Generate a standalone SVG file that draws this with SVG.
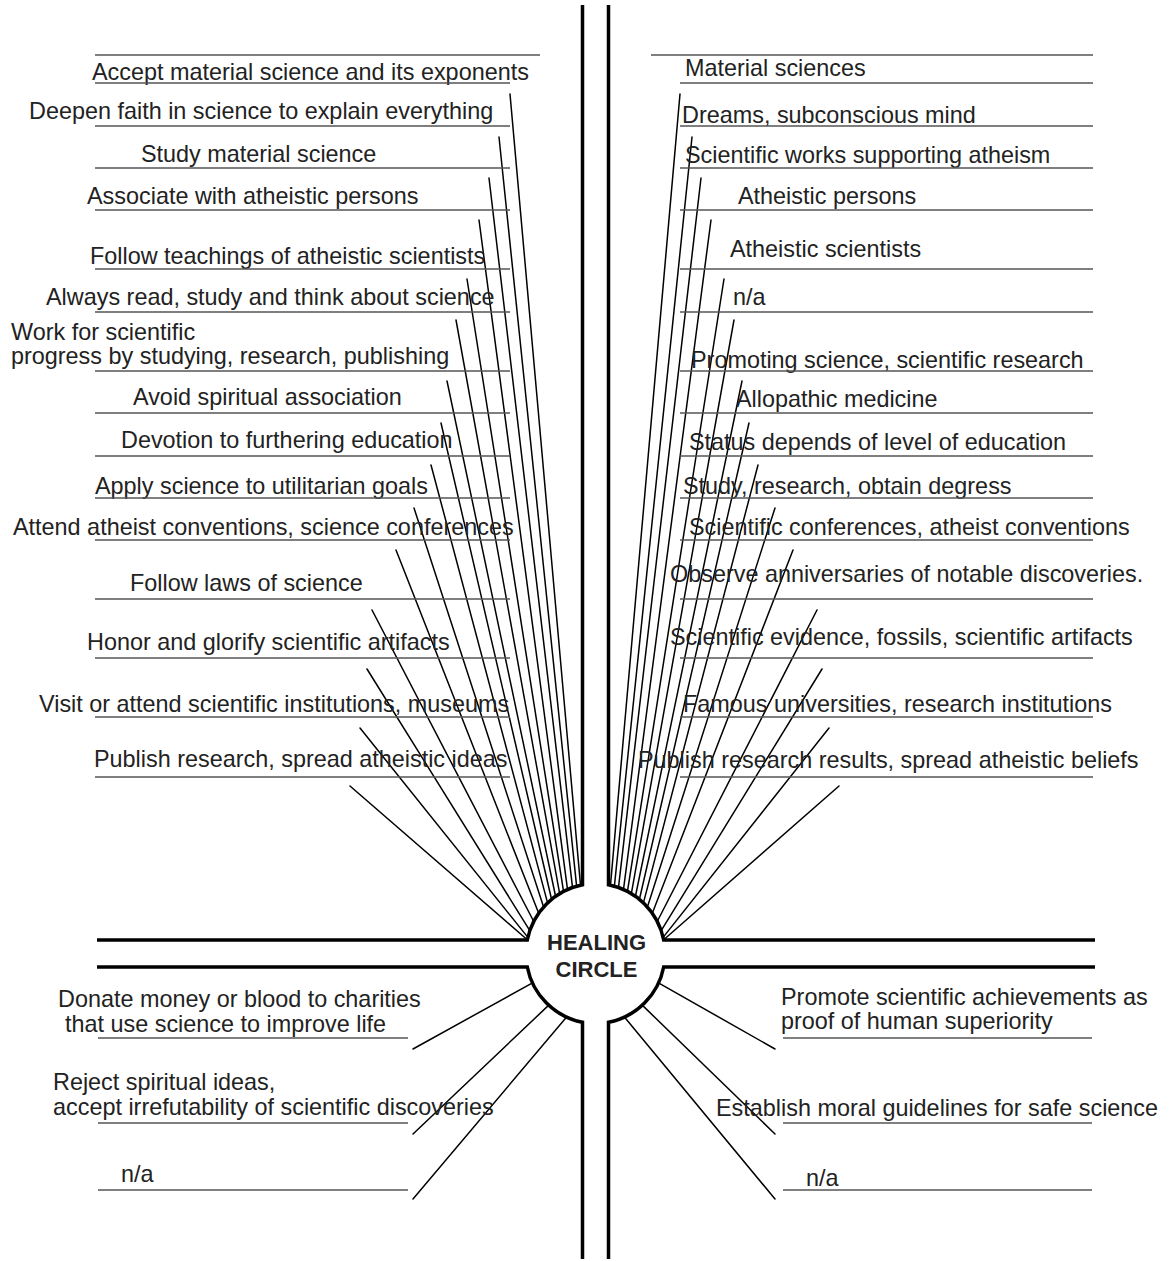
<svg xmlns="http://www.w3.org/2000/svg" width="1175" height="1261" viewBox="0 0 1175 1261">
<style>
.t{font-family:"Liberation Sans",Arial,sans-serif;font-size:23.4px;fill:#222}
.u{stroke:#555;stroke-width:1.4;fill:none}
.r{stroke:#000;stroke-width:1.5;fill:none;stroke-linecap:round}
.k{stroke:#000;stroke-width:3.5;fill:none}
.c{font-family:"Liberation Sans",Arial,sans-serif;font-size:22px;font-weight:bold;fill:#222;text-anchor:middle}
</style>
<rect width="1175" height="1261" fill="#fff"/>
<g id="healing-circle">
<path class="k" d="M582.5,5 V884.7 A70,70 0 0 0 527.3,940 H97"/>
<path class="k" d="M608.5,5 V884.7 A70,70 0 0 1 663.7,940 H1095"/>
<path class="k" d="M97,967 H527.3 A70,70 0 0 0 582.5,1022.3 V1259"/>
<path class="k" d="M1095,967 H663.7 A70,70 0 0 1 608.5,1022.3 V1259"/>
<text class="c" x="596.5" y="950">HEALING</text>
<text class="c" x="596.5" y="977">CIRCLE</text>
</g>
<g id="connectors">
<line class="r" x1="510" y1="94" x2="580.5" y2="885.1"/>
<line class="r" x1="499" y1="137" x2="576.6" y2="886.1"/>
<line class="r" x1="489" y1="178" x2="572.5" y2="887.4"/>
<line class="r" x1="479" y1="220" x2="567.5" y2="889.4"/>
<line class="r" x1="467" y1="279" x2="563.5" y2="891.2"/>
<line class="r" x1="456" y1="320" x2="559.6" y2="893.4"/>
<line class="r" x1="447" y1="381" x2="555.5" y2="896"/>
<line class="r" x1="441" y1="423" x2="551.5" y2="899"/>
<line class="r" x1="431" y1="465" x2="547.5" y2="902.6"/>
<line class="r" x1="414" y1="508" x2="543.5" y2="906.7"/>
<line class="r" x1="396" y1="550" x2="538.5" y2="912.8"/>
<line class="r" x1="372" y1="610" x2="533.5" y2="921"/>
<line class="r" x1="367" y1="669" x2="529.5" y2="930.1"/>
<line class="r" x1="360" y1="728" x2="527.5" y2="936.9"/>
<line class="r" x1="350" y1="786" x2="527" y2="939.5"/>
<line class="r" x1="680" y1="94" x2="610.5" y2="885.1"/>
<line class="r" x1="692" y1="137" x2="614.4" y2="886.1"/>
<line class="r" x1="701" y1="178" x2="618.5" y2="887.4"/>
<line class="r" x1="711" y1="220" x2="623.5" y2="889.4"/>
<line class="r" x1="724" y1="279" x2="627.5" y2="891.2"/>
<line class="r" x1="734" y1="320" x2="631.4" y2="893.4"/>
<line class="r" x1="742" y1="381" x2="635.5" y2="896"/>
<line class="r" x1="749" y1="423" x2="639.5" y2="899"/>
<line class="r" x1="758" y1="465" x2="643.5" y2="902.6"/>
<line class="r" x1="775" y1="508" x2="647.5" y2="906.7"/>
<line class="r" x1="793" y1="550" x2="652.5" y2="912.8"/>
<line class="r" x1="817" y1="610" x2="657.5" y2="921"/>
<line class="r" x1="822" y1="669" x2="661.5" y2="930.1"/>
<line class="r" x1="829" y1="728" x2="663.5" y2="936.9"/>
<line class="r" x1="839" y1="786" x2="664" y2="939.5"/>
<line class="r" x1="532.1" y1="983.1" x2="413" y2="1049"/>
<line class="r" x1="548.5" y1="1005.4" x2="413" y2="1134"/>
<line class="r" x1="566.4" y1="1017.2" x2="413" y2="1199"/>
<line class="r" x1="658.9" y1="983.1" x2="775" y2="1049"/>
<line class="r" x1="642.5" y1="1005.4" x2="775" y2="1134"/>
<line class="r" x1="624.6" y1="1017.2" x2="775" y2="1199"/>
</g>
<g id="L1"><line class="u" x1="95" y1="55" x2="540" y2="55"/><text class="t" x="92" y="80">Accept material science and its exponents</text><line class="u" x1="95" y1="83" x2="510" y2="83"/></g>
<g id="L2"><text class="t" x="29" y="119">Deepen faith in science to explain everything</text><line class="u" x1="95" y1="126" x2="510" y2="126"/></g>
<g id="L3"><text class="t" x="141" y="162">Study material science</text><line class="u" x1="95" y1="168" x2="510" y2="168"/></g>
<g id="L4"><text class="t" x="87" y="204">Associate with atheistic persons</text><line class="u" x1="95" y1="210" x2="510" y2="210"/></g>
<g id="L5"><text class="t" x="90" y="264">Follow teachings of atheistic scientists</text><line class="u" x1="95" y1="269" x2="510" y2="269"/></g>
<g id="L6"><text class="t" x="46" y="305">Always read, study and think about science</text><line class="u" x1="95" y1="312" x2="510" y2="312"/></g>
<g id="L7"><text class="t" x="11" y="340">Work for scientific</text><text class="t" x="11" y="364">progress by studying, research, publishing</text><line class="u" x1="95" y1="371" x2="510" y2="371"/></g>
<g id="L8"><text class="t" x="133" y="405">Avoid spiritual association</text><line class="u" x1="95" y1="413" x2="510" y2="413"/></g>
<g id="L9"><text class="t" x="121" y="448">Devotion to furthering education</text><line class="u" x1="95" y1="456" x2="510" y2="456"/></g>
<g id="L10"><text class="t" x="95" y="494">Apply science to utilitarian goals</text><line class="u" x1="95" y1="498" x2="510" y2="498"/></g>
<g id="L11"><text class="t" x="13" y="535">Attend atheist conventions, science conferences</text><line class="u" x1="95" y1="540" x2="510" y2="540"/></g>
<g id="L12"><text class="t" x="130" y="591">Follow laws of science</text><line class="u" x1="95" y1="599" x2="510" y2="599"/></g>
<g id="L13"><text class="t" x="87" y="650">Honor and glorify scientific artifacts</text><line class="u" x1="95" y1="658" x2="510" y2="658"/></g>
<g id="L14"><text class="t" x="39" y="712">Visit or attend scientific institutions, museums</text><line class="u" x1="95" y1="717" x2="510" y2="717"/></g>
<g id="L15"><text class="t" x="94" y="767">Publish research, spread atheistic ideas</text><line class="u" x1="95" y1="777" x2="510" y2="777"/></g>
<g id="R1"><line class="u" x1="651" y1="55" x2="1093" y2="55"/><text class="t" x="685" y="76">Material sciences</text><line class="u" x1="680" y1="83" x2="1093" y2="83"/></g>
<g id="R2"><text class="t" x="682" y="123">Dreams, subconscious mind</text><line class="u" x1="680" y1="126" x2="1093" y2="126"/></g>
<g id="R3"><text class="t" x="685" y="163">Scientific works supporting atheism</text><line class="u" x1="680" y1="168" x2="1093" y2="168"/></g>
<g id="R4"><text class="t" x="738" y="204">Atheistic persons</text><line class="u" x1="680" y1="210" x2="1093" y2="210"/></g>
<g id="R5"><text class="t" x="730" y="257">Atheistic scientists</text><line class="u" x1="680" y1="269" x2="1093" y2="269"/></g>
<g id="R6"><text class="t" x="733" y="305">n/a</text><line class="u" x1="680" y1="312" x2="1093" y2="312"/></g>
<g id="R7"><text class="t" x="691" y="368">Promoting science, scientific research</text><line class="u" x1="680" y1="371" x2="1093" y2="371"/></g>
<g id="R8"><text class="t" x="736" y="407">Allopathic medicine</text><line class="u" x1="680" y1="413" x2="1093" y2="413"/></g>
<g id="R9"><text class="t" x="689" y="450">Status depends of level of education</text><line class="u" x1="680" y1="456" x2="1093" y2="456"/></g>
<g id="R10"><text class="t" x="683" y="494">Study, research, obtain degress</text><line class="u" x1="680" y1="498" x2="1093" y2="498"/></g>
<g id="R11"><text class="t" x="689" y="535">Scientific conferences, atheist conventions</text><line class="u" x1="680" y1="540" x2="1093" y2="540"/></g>
<g id="R12"><text class="t" x="670" y="582">Observe anniversaries of notable discoveries.</text><line class="u" x1="680" y1="599" x2="1093" y2="599"/></g>
<g id="R13"><text class="t" x="670" y="645">Scientific evidence, fossils, scientific artifacts</text><line class="u" x1="680" y1="658" x2="1093" y2="658"/></g>
<g id="R14"><text class="t" x="683" y="712">Famous universities, research institutions</text><line class="u" x1="680" y1="717" x2="1093" y2="717"/></g>
<g id="R15"><text class="t" x="638" y="768">Publish research results, spread atheistic beliefs</text><line class="u" x1="680" y1="777" x2="1093" y2="777"/></g>
<g id="BL1"><text class="t" x="58" y="1007">Donate money or blood to charities</text><text class="t" x="65" y="1032">that use science to improve life</text><line class="u" x1="98" y1="1038" x2="408" y2="1038"/></g>
<g id="BL2"><text class="t" x="53" y="1090">Reject spiritual ideas,</text><text class="t" x="53" y="1115">accept irrefutability of scientific discoveries</text><line class="u" x1="98" y1="1123" x2="408" y2="1123"/></g>
<g id="BL3"><text class="t" x="121" y="1182">n/a</text><line class="u" x1="98" y1="1190" x2="408" y2="1190"/></g>
<g id="BR1"><text class="t" x="781" y="1005">Promote scientific achievements as</text><text class="t" x="781" y="1029">proof of human superiority</text><line class="u" x1="783" y1="1038" x2="1092" y2="1038"/></g>
<g id="BR2"><text class="t" x="716" y="1116">Establish moral guidelines for safe science</text><line class="u" x1="783" y1="1123" x2="1092" y2="1123"/></g>
<g id="BR3"><text class="t" x="806" y="1186">n/a</text><line class="u" x1="783" y1="1190" x2="1092" y2="1190"/></g>
</svg>
